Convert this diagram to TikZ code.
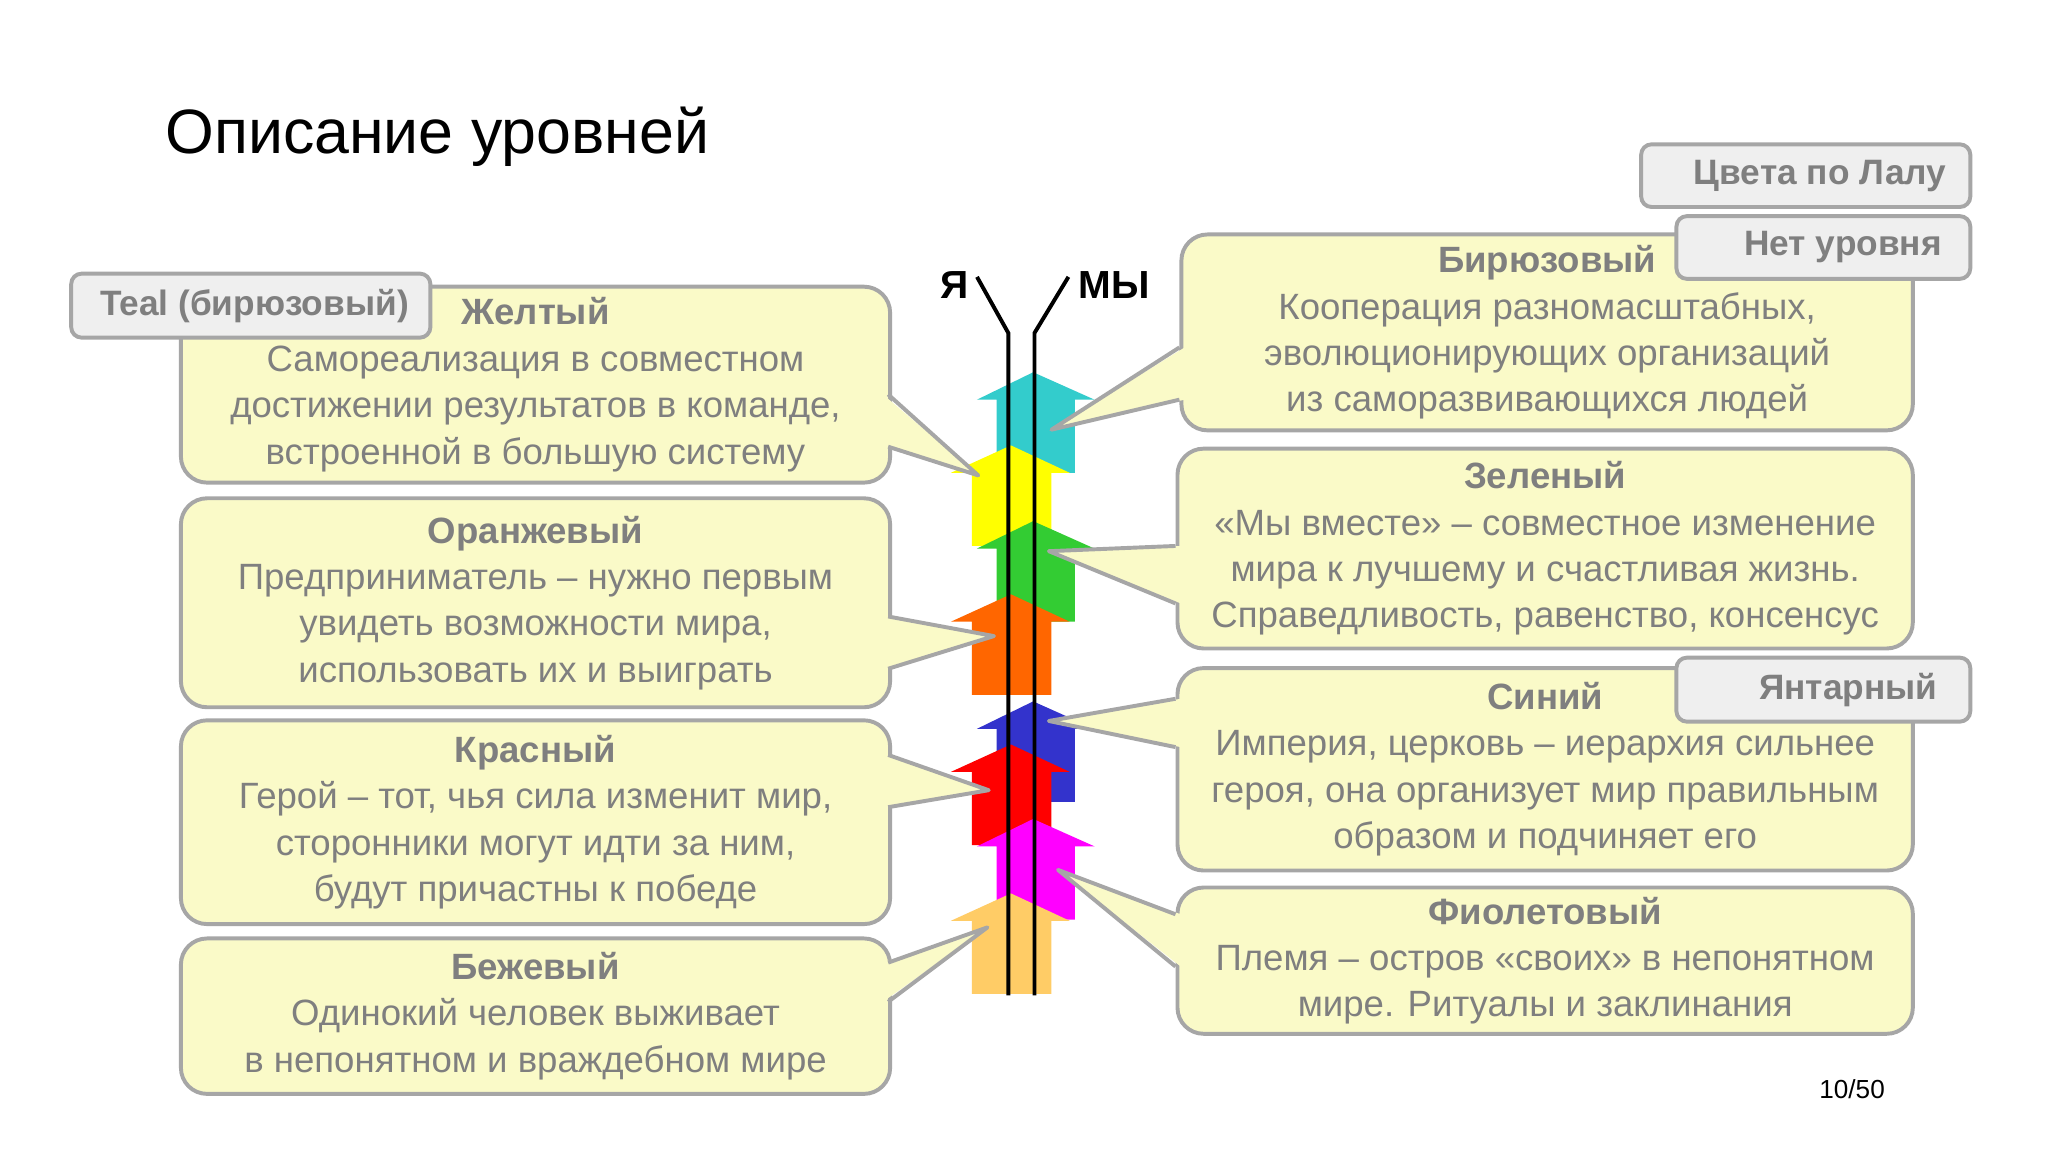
\documentclass[tikz,border=0pt]{standalone}
\usepackage{fontspec}
\setmainfont{Liberation Sans}
\begin{document}
\begin{tikzpicture}[x=1pt,y=-1pt,
  box/.style={draw=bordc,line width=3pt,fill=bfill,rounded corners=20pt,anchor=north west,align=center,text=txtc,inner sep=0pt,font=\fontsize{28}{35.5}\selectfont},
  tag/.style={draw=bordc,line width=3pt,fill=tagfill,rounded corners=8pt,anchor=north west,text=txtc,font=\fontsize{27}{30}\selectfont\bfseries,inner sep=0pt},
  side/.style={draw=bordc,line width=3pt,line join=round}]
\definecolor{bordc}{HTML}{A6A6A6}
\definecolor{bfill}{HTML}{FAFAC8}
\definecolor{tagfill}{HTML}{EFEFEF}
\definecolor{txtc}{HTML}{7F7F7F}
\definecolor{cCy}{HTML}{33CCCC}\definecolor{cYe}{HTML}{FFFF00}
\definecolor{cGr}{HTML}{33CC33}\definecolor{cOr}{HTML}{FF6600}
\definecolor{cBl}{HTML}{3333CC}\definecolor{cRe}{HTML}{FF0000}
\definecolor{cMa}{HTML}{FF00FF}\definecolor{cBe}{HTML}{FFCC66}
\useasboundingbox[fill=white] (0,0) rectangle (1568,882);
\newcommand\arR[2]{\fill[#1] (791,#2) -- (838,#2+21) -- (823,#2+21) -- (823,#2+77) -- (763,#2+77) -- (763,#2+21) -- (748,#2+21) -- cycle;}
\newcommand\arL[2]{\fill[#1] (774,#2) -- (819,#2+21) -- (805,#2+21) -- (805,#2+77) -- (744,#2+77) -- (744,#2+21) -- (728,#2+21) -- cycle;}
% arrows
\arR{cCy}{285}\arL{cYe}{341}\arR{cGr}{399}\arL{cOr}{455}
\arR{cBl}{537}\arL{cRe}{570}\arR{cMa}{627}\arL{cBe}{684}
% lines
\coordinate (ya) at (748,212); \coordinate (yb) at (772,255); \coordinate (yc) at (772,762);
\coordinate (ma) at (818,212); \coordinate (mb) at (792,255); \coordinate (mc) at (792,762);
\draw[line width=3pt] (ya) -- (yb) -- (yc);
\draw[line width=3pt] (ma) -- (mb) -- (mc);
\node[font=\fontsize{30}{30}\selectfont\bfseries] (tya) at (731,218) {Я};
\node[font=\fontsize{30}{30}\selectfont\bfseries] (tmy) at (853,218) {МЫ};
% title
\node[anchor=west,font=\fontsize{48}{50}\selectfont] (title) at (123,105) {Описание уровней};
\node[font=\fontsize{20}{22}\selectfont] (pg) at (1418,834) {10/50};
% pointer macro: edgeX insideX y1 y2 tip
\newcommand\ptr[5]{\fill[bfill] (#2,#3) -- (#5) -- (#2,#4) -- cycle;
  \draw[side] (#1,#3) -- (#5) -- (#1,#4);}
% left boxes
\node[box,minimum width=543pt,minimum height=150pt] (l1) at (137,218) {\textbf{Желтый}\\Самореализация в совместном\\достижении результатов в команде,\\встроенной в большую систему};
\coordinate (t1) at (749,364); \ptr{680}{676}{302}{342}{t1}
\node[box,minimum width=543pt,minimum height=160pt] (l2) at (137,380) {\textbf{Оранжевый}\\Предприниматель – нужно первым\\увидеть возможности мира,\\использовать их и выиграть};
\coordinate (t2) at (761,487); \ptr{680}{676}{472}{512}{t2}
\node[box,minimum width=543pt,minimum height=156pt] (l3) at (137,550) {\textbf{Красный}\\Герой – тот, чья сила изменит мир,\\сторонники могут идти за ним,\\будут причастны к победе};
\coordinate (t3) at (757,605); \ptr{680}{676}{578}{618}{t3}
\node[box,minimum width=543pt,minimum height=119pt] (l4) at (137,717) {\textbf{Бежевый}\\Одинокий человек выживает\\в непонятном и враждебном мире};
\coordinate (t4) at (756,710); \ptr{680}{676}{737}{767}{t4}
\node[tag,minimum width=275pt,minimum height=49pt] (teal) at (53,208) {\hspace*{6pt}Teal (бирюзовый)};
% right boxes
\node[box,minimum width=560pt,minimum height=150pt] (r1) at (903,178) {\textbf{Бирюзовый}\\Кооперация разномасштабных,\\эволюционирующих организаций\\из саморазвивающихся людей};
\coordinate (t5) at (805,329); \ptr{903}{907}{266}{306}{t5}
\node[box,minimum width=563pt,minimum height=153pt] (r2) at (900,342) {\textbf{Зеленый}\\«Мы вместе» – совместное изменение\\мира к лучшему и счастливая жизнь.\\Справедливость, равенство, консенсус};
\coordinate (t6) at (803,422); \ptr{900}{904}{418}{462}{t6}
\node[box,minimum width=563pt,minimum height=155pt] (r3) at (900,510) {\textbf{Синий}\\Империя, церковь – иерархия сильнее\\героя, она организует мир правильным\\образом и подчиняет его};
\coordinate (t7) at (803,552); \ptr{900}{904}{535}{572}{t7}
\node[box,minimum width=563pt,minimum height=112pt] (r4) at (900,678) {\textbf{Фиолетовый}\\Племя – остров «своих» в непонятном\\мире. Ритуалы и заклинания};
\coordinate (t8) at (810,666); \ptr{900}{904}{700}{740}{t8}
% tags
\node[tag,minimum width=252pt,minimum height=48pt] (lalu) at (1255,109) {\hspace*{22pt}Цвета по Лалу};
\node[tag,minimum width=225pt,minimum height=48pt] (net) at (1282,164) {\hspace*{30pt}Нет уровня};
\node[tag,minimum width=225pt,minimum height=49pt] (yant) at (1282,502) {\hspace*{38pt}Янтарный};
\end{tikzpicture}
\end{document}
